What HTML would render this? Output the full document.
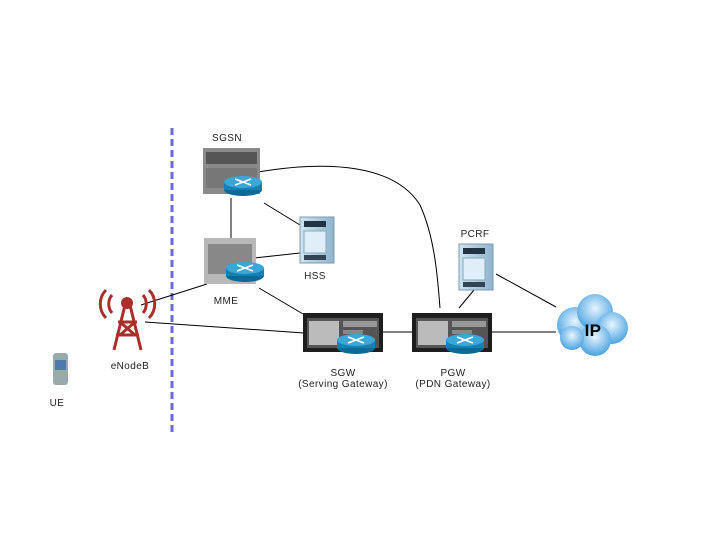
<!DOCTYPE html>
<html><head><meta charset="utf-8"><style>
html,body{margin:0;padding:0;background:#fff;width:720px;height:540px;overflow:hidden}
text{font-family:"Liberation Sans",sans-serif;font-size:10px;fill:#222;text-anchor:middle;letter-spacing:0.4px}
</style></head><body>
<svg width="720" height="540" viewBox="0 0 720 540" xmlns="http://www.w3.org/2000/svg">
<defs>
<linearGradient id="srv" x1="0" y1="0" x2="1" y2="0"><stop offset="0" stop-color="#cfe3f0"/><stop offset="1" stop-color="#8fb4cc"/></linearGradient>
<radialGradient id="cl" cx="0.5" cy="0.4" r="0.6"><stop offset="0" stop-color="#e6f4ff"/><stop offset="1" stop-color="#4aa3e0"/></radialGradient>
<g id="router"><ellipse cx="0" cy="8" rx="19" ry="6" fill="#0c6a98"/><rect x="-19" y="0" width="38" height="8" fill="#1480b4"/><ellipse cx="0" cy="0" rx="19" ry="6" fill="#3ba7d6"/><path d="M-8,-3 L8,3 M8,-3 L-8,3" stroke="#fff" stroke-width="1.5"/></g>
<g id="server"><rect x="0" y="0" width="34" height="46" fill="url(#srv)" stroke="#7a9bb0"/><rect x="4" y="4" width="22" height="6" fill="#234"/><rect x="4" y="14" width="22" height="22" fill="#dfeef8" stroke="#8ab"/><rect x="4" y="38" width="22" height="5" fill="#345"/></g>
<g id="gw"><rect x="0" y="0" width="80" height="39" fill="#1e1e1e"/><rect x="4" y="5" width="72" height="30" fill="#555"/><rect x="6" y="8" width="30" height="24" fill="#bbb"/><rect x="40" y="8" width="34" height="6" fill="#999"/><rect x="40" y="17" width="20" height="4" fill="#888"/></g>
</defs>
<line x1="172" y1="128" x2="172" y2="436" stroke="#6a6ad8" stroke-width="3" stroke-dasharray="7,4"/>
<g stroke="#000" stroke-width="1" fill="none">
<path d="M258,172 C330,160 395,165 420,205 C436,240 438,285 440,308"/>
<line x1="231" y1="198" x2="231" y2="238"/>
<line x1="264" y1="203" x2="300" y2="225"/>
<line x1="254" y1="258" x2="300" y2="253"/>
<line x1="259" y1="288" x2="303" y2="314"/>
<line x1="207" y1="284" x2="141" y2="305"/>
<line x1="145" y1="322" x2="304" y2="333"/>
<line x1="382" y1="332" x2="412" y2="332"/>
<line x1="459" y1="308" x2="474" y2="290"/>
<line x1="496" y1="274" x2="556" y2="307"/>
<line x1="492" y1="332" x2="556" y2="332"/>
</g>
<rect x="203" y="148" width="57" height="46" fill="#8a8a8a"/><rect x="206" y="152" width="51" height="12" fill="#555"/><rect x="206" y="168" width="51" height="20" fill="#777"/>
<use href="#router" x="243" y="182"/>
<rect x="204" y="238" width="52" height="46" fill="#b8b8b8"/><rect x="208" y="244" width="44" height="30" fill="#888"/>
<use href="#router" x="245" y="268"/>
<use href="#server" x="300" y="217"/>
<use href="#server" x="459" y="244"/>
<use href="#gw" x="303" y="313"/><use href="#router" x="356" y="340"/>
<use href="#gw" x="412" y="313"/><use href="#router" x="465" y="340"/>
<g fill="url(#cl)"><circle cx="575" cy="325" r="18"/><circle cx="595" cy="312" r="18"/><circle cx="612" cy="328" r="16"/><circle cx="595" cy="340" r="16"/><circle cx="572" cy="338" r="12"/></g>
<text x="593" y="336" style="font-size:17px;font-weight:bold;fill:#000">IP</text>
<g stroke="#a8302a" stroke-width="3" fill="none"><path d="M125,305 L114,350 M130,305 L141,350 M118,322 L137,322 M116,335 L139,335 M120,322 L135,335 M135,322 L120,335"/><path d="M112,295 A14,14 0 0,0 112,313 M106,290 A20,20 0 0,0 106,318 M143,295 A14,14 0 0,1 143,313 M149,290 A20,20 0 0,1 149,318"/></g>
<circle cx="127" cy="303" r="6" fill="#a8302a"/>
<rect x="53" y="353" width="15" height="32" rx="3" fill="#9aa"/><rect x="55" y="360" width="11" height="10" fill="#4a7ab0"/>
<text x="227" y="141">SGSN</text>
<text x="315" y="279">HSS</text>
<text x="475" y="237">PCRF</text>
<text x="226" y="304">MME</text>
<text x="130" y="369">eNodeB</text>
<text x="57" y="406">UE</text>
<text x="343" y="376">SGW</text>
<text x="343" y="387">(Serving Gateway)</text>
<text x="453" y="376">PGW</text>
<text x="453" y="387">(PDN Gateway)</text>
</svg>
</body></html>
